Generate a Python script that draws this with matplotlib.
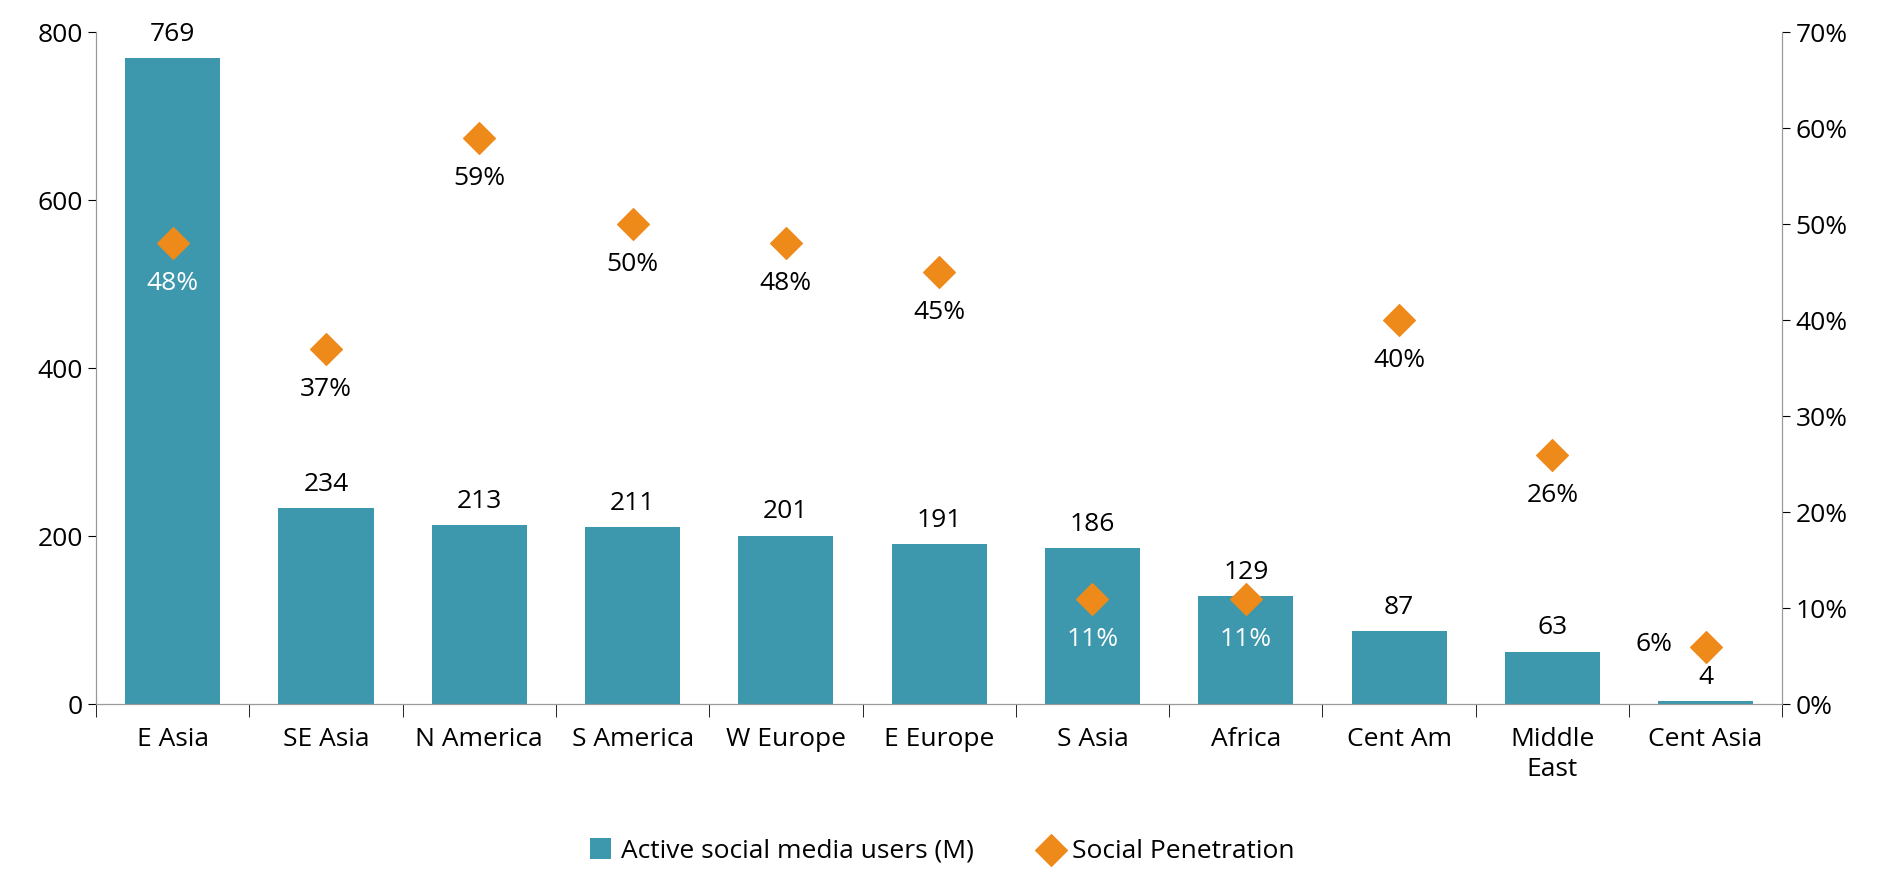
import matplotlib.pyplot as plt
import numpy as np

plt.rcParams['font.family'] = ['Open Sans', 'DejaVu Sans']

regions = ['E Asia', 'SE Asia', 'N America', 'S America', 'W Europe', 'E Europe',
           'S Asia', 'Africa', 'Cent Am', 'Middle\nEast', 'Cent Asia']
users = [769, 234, 213, 211, 201, 191, 186, 129, 87, 63, 4]
penetration = [48, 37, 59, 50, 48, 45, 11, 11, 40, 26, 6]

teal = '#3d97ad'
orange = '#ee8a1a'
fs = 19

fig = plt.figure(figsize=(18.84, 8.94), dpi=100)
ax = fig.add_axes([0.051, 0.212, 0.895, 0.752])
ax2 = ax.twinx()

x = np.arange(len(regions))
ax.bar(x, users, width=0.62, color=teal, label='Active social media users (M)', zorder=2)
ax.set_ylim(0, 800)
ax.set_xlim(-0.5, len(regions) - 0.5)
ax.set_yticks([0, 200, 400, 600, 800])
ax.tick_params(axis='y', labelsize=fs, direction='out', length=6)
ax.set_xticks(x)
ax.set_xticklabels(regions, fontsize=fs, linespacing=1.3)
ax.tick_params(axis='x', length=0, pad=16)
ax.set_xticks(np.arange(-0.5, len(regions)), minor=True)
ax.tick_params(axis='x', which='minor', length=9, direction='out')

for xi, u in zip(x, users):
    ax.annotate(str(u), (xi, u), xytext=(0, 8), textcoords='offset points',
                ha='center', va='bottom', fontsize=fs)

ax2.scatter(x, penetration, marker='D', s=260, color=orange, zorder=3,
            label='Social Penetration')
ax2.set_ylim(0, 70)
ax2.set_yticks(range(0, 71, 10))
ax2.set_yticklabels([f'{v}%' for v in range(0, 71, 10)])
ax2.tick_params(axis='y', labelsize=fs, direction='out', length=6)

inside = {0, 6, 7}
for i, (xi, p) in enumerate(zip(x, penetration)):
    if i == len(x) - 1:
        ax2.annotate(f'{p}%', (xi, p), xytext=(-24, 2), textcoords='offset points',
                     ha='right', va='center', fontsize=fs)
    else:
        ax2.annotate(f'{p}%', (xi, p), xytext=(0, -20), textcoords='offset points',
                     ha='center', va='top', fontsize=fs,
                     color='white' if i in inside else 'black')

for a in (ax, ax2):
    a.spines['top'].set_visible(False)
    for s in a.spines.values():
        s.set_color('#999999')

h1, l1 = ax.get_legend_handles_labels()
h2, l2 = ax2.get_legend_handles_labels()
fig.legend(h1 + h2, l1 + l2, loc='center', bbox_to_anchor=(0.5, 0.048),
           ncol=2, frameon=False, fontsize=fs, handlelength=0.8, handleheight=0.8,
           columnspacing=2.5, handletextpad=0.4)

fig.savefig('out.png', dpi=100)
